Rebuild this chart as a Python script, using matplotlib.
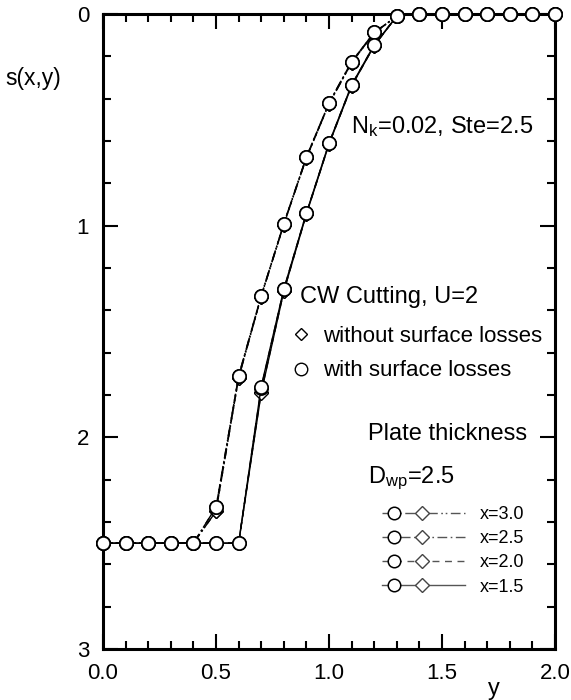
import matplotlib

matplotlib.use('Agg')
import matplotlib.pyplot as plt
from matplotlib.legend_handler import HandlerBase
from matplotlib.lines import Line2D
from matplotlib.ticker import FormatStrFormatter, MultipleLocator

plt.rcParams['font.family'] = ['Liberation Sans', 'DejaVu Sans']
plt.rcParams['mathtext.fontset'] = 'custom'
plt.rcParams['mathtext.rm'] = 'Liberation Sans'
plt.rcParams['mathtext.it'] = 'Liberation Sans:italic'

# 横坐标 y
y = [0.0, 0.1, 0.2, 0.3, 0.4, 0.5, 0.6, 0.7, 0.8, 0.9, 1.0,
     1.1, 1.2, 1.3, 1.4, 1.5, 1.6, 1.7, 1.8, 1.9, 2.0]

# s(x,y)，with = 有表面损失（圆），without = 无表面损失（菱形）
s_15_with = [2.50, 2.50, 2.50, 2.50, 2.50, 2.50, 2.50, 1.76, 1.30, 0.94, 0.61,
             0.335, 0.146, 0.01, 0.0, 0.0, 0.0, 0.0, 0.0, 0.0, 0.0]
s_15_without = [2.50, 2.50, 2.50, 2.50, 2.50, 2.50, 2.50, 1.79, 1.31, 0.945, 0.615,
                0.34, 0.15, 0.01, 0.0, 0.0, 0.0, 0.0, 0.0, 0.0, 0.0]
s_20_with = [2.50, 2.50, 2.50, 2.50, 2.50, 2.50, 2.50, 1.765, 1.30, 0.94, 0.61,
             0.335, 0.146, 0.01, 0.0, 0.0, 0.0, 0.0, 0.0, 0.0, 0.0]
s_20_without = [2.50, 2.50, 2.50, 2.50, 2.50, 2.50, 2.50, 1.785, 1.31, 0.945, 0.615,
                0.34, 0.15, 0.01, 0.0, 0.0, 0.0, 0.0, 0.0, 0.0, 0.0]
s_25_with = [2.50, 2.50, 2.50, 2.50, 2.50, 2.33, 1.71, 1.33, 0.99, 0.675, 0.42,
             0.225, 0.087, 0.01, 0.0, 0.0, 0.0, 0.0, 0.0, 0.0, 0.0]
s_25_without = [2.50, 2.50, 2.50, 2.50, 2.50, 2.35, 1.72, 1.335, 0.995, 0.68, 0.425,
                0.23, 0.09, 0.01, 0.0, 0.0, 0.0, 0.0, 0.0, 0.0, 0.0]
s_30_with = [2.50, 2.50, 2.50, 2.50, 2.50, 2.33, 1.71, 1.33, 0.99, 0.675, 0.42,
             0.225, 0.087, 0.01, 0.0, 0.0, 0.0, 0.0, 0.0, 0.0, 0.0]
s_30_without = [2.50, 2.50, 2.50, 2.50, 2.50, 2.35, 1.72, 1.335, 0.995, 0.68, 0.425,
                0.23, 0.09, 0.01, 0.0, 0.0, 0.0, 0.0, 0.0, 0.0, 0.0]

x_labels = ['x=3.0', 'x=2.5', 'x=2.0', 'x=1.5']
series_with = [s_30_with, s_25_with, s_20_with, s_15_with]
series_without = [s_30_without, s_25_without, s_20_without, s_15_without]
line_styles = [(0, (7, 2.5, 1.2, 2, 1.2, 2.5)), (0, (7, 2.5, 1.2, 2.5)),
               (0, (5, 4)), '-']


class CircDiamHandler(HandlerBase):
    """图例样式：线 + 圆 + 菱形"""

    def __init__(self, ls):
        super().__init__()
        self.ls = ls

    def create_artists(self, legend, orig_handle, xdescent, ydescent,
                       width, height, fontsize, trans):
        yc = height / 2 - ydescent
        ln = Line2D([-xdescent, width - xdescent], [yc, yc], color='#555555',
                    lw=1.0, ls=self.ls)
        c = Line2D([0.14 * width - xdescent], [yc], marker='o', ms=9,
                   mfc='white', mec='black', mew=1.1, ls='none')
        d = Line2D([0.48 * width - xdescent], [yc], marker='D', ms=7,
                   mfc='white', mec='#444444', mew=1.0, ls='none')
        for a in (ln, c, d):
            a.set_transform(trans)
        return [ln, c, d]


fig = plt.figure(figsize=(5.71, 7.0), dpi=100)
ax = fig.add_axes([0.1804, 0.0729, 0.7916, 0.9071])

for sw, ls in zip(series_without, line_styles):
    ax.plot(y, sw, color='black', lw=1.0, ls=ls, marker='D', ms=7,
            mfc='white', mec='black', mew=1.0, zorder=3)
handles = []
for sv, ls in zip(series_with, line_styles):
    h, = ax.plot(y, sv, color='black', lw=1.0, ls=ls, marker='o', ms=9.5,
                 mfc='white', mec='black', mew=1.2, zorder=4, clip_on=False)
    handles.append(h)

ax.set_xlim(0.0, 2.0)
ax.set_ylim(3.0, 0.0)
ax.xaxis.set_major_locator(MultipleLocator(0.5))
ax.xaxis.set_minor_locator(MultipleLocator(0.1))
ax.yaxis.set_major_locator(MultipleLocator(1))
ax.yaxis.set_minor_locator(MultipleLocator(0.2))
ax.xaxis.set_major_formatter(FormatStrFormatter('%.1f'))
ax.tick_params(which='both', direction='in', top=True, right=True,
               labelsize=16, width=1.5)
ax.tick_params(which='major', length=11)
ax.tick_params(which='minor', length=6)
ax.tick_params(axis='x', pad=10)
ax.tick_params(axis='y', pad=10)
for sp in ax.spines.values():
    sp.set_linewidth(2.2)

# 坐标轴标签
fig.text(5 / 571, 1 - 79 / 700, 's(x,y)', fontsize=16.5, va='center', ha='left')
fig.text(494 / 571, 1 - 689 / 700, 'y', fontsize=17, va='center', ha='center')

ax.text(0.549, 1 - (127 - 14) / 635, r'N$_{\rm k}$=0.02, Ste=2.5',
        transform=ax.transAxes, fontsize=17, va='center', ha='left')
ax.text(0.435, 1 - (297 - 14) / 635, 'CW Cutting, U=2',
        transform=ax.transAxes, fontsize=17, va='center', ha='left')
ax.text(0.586, 1 - (434 - 14) / 635, 'Plate thickness',
        transform=ax.transAxes, fontsize=17, va='center', ha='left')
ax.text(0.586, 1 - (478 - 14) / 635, r'D$_{\rm wp}$=2.5',
        transform=ax.transAxes, fontsize=17, va='center', ha='left')

# 有/无表面损失 图例
loss_handles = [
    Line2D([], [], ls='none', marker='D', ms=6.5, mfc='white', mec='black', mew=1.0),
    Line2D([], [], ls='none', marker='o', ms=9, mfc='white', mec='black', mew=1.0),
]
leg1 = ax.legend(loss_handles, ['without surface losses', 'with surface losses'],
                 loc='upper left', bbox_to_anchor=(0.418, 1 - (326 - 14) / 635),
                 frameon=False, fontsize=16, handlelength=0.8, handletextpad=0.6,
                 labelspacing=0.6, borderpad=0, borderaxespad=0)
ax.add_artist(leg1)

# x 系列图例
ax.legend(handles, x_labels,
          handler_map={h: CircDiamHandler(ls) for h, ls in zip(handles, line_styles)},
          loc='upper left', bbox_to_anchor=((382 - 103) / 452, 1 - (506 - 14) / 635),
          frameon=False, fontsize=13, handlelength=4.6, handletextpad=0.8,
          labelspacing=0.4, borderpad=0, borderaxespad=0)

fig.savefig('out.png', dpi=100)
